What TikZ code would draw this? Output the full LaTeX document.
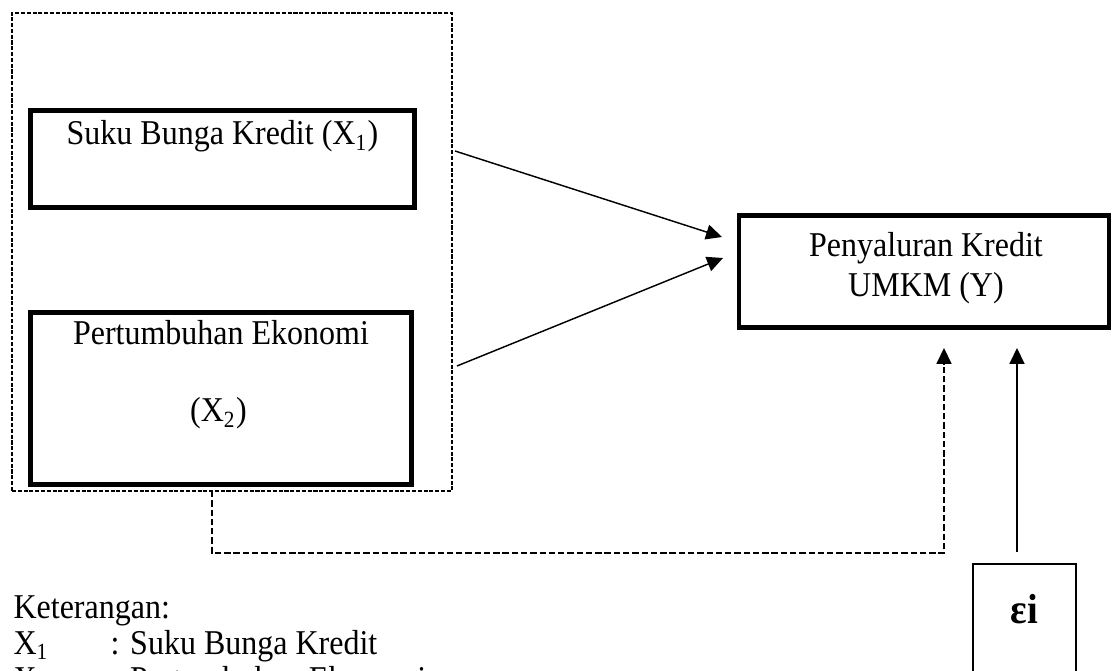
\documentclass[tikz,border=0pt]{standalone}
\usepackage{fontspec}
\setmainfont[FakeStretch=0.92]{Liberation Serif}
\usetikzlibrary{positioning,calc,fit,arrows.meta}
\tikzset{every node/.style={font=\fontsize{12}{13.8}\selectfont}}
\tikzset{txt/.style={inner sep=0pt}}
\tikzset{var box/.style={draw,line width=1.7pt,inner sep=0pt,outer sep=0pt}}
\tikzset{group box/.style={draw,line width=0.5pt,dash pattern=on 1.4pt off 0.6pt,inner sep=0pt,outer sep=0pt}}
\tikzset{link/.style={line width=0.5pt,-{Triangle[length=5.5pt,width=5.2pt]}}}
\tikzset{dashed link/.style={link,dash pattern=on 2.2pt off 1pt}}

\begin{document}
\begin{tikzpicture}[x=0.345pt,y=-0.345pt]
\useasboundingbox (0,0) rectangle (1112,671);

%Variables X1 and X2
\node[group box,fit={(12,13) (452,491)}] (grp) {};
\node[var box,fit={(30.5,110.5) (414.5,207.5)}] (x1) {};
\node[txt,anchor=base] (x1text) at ($(x1.north)+(0,34.5)$) {Suku Bunga Kredit (X\textsubscript{1})};
\node[var box,fit={(30.5,312.5) (411.5,484.5)}] (x2) {};
\node[txt,anchor=base] (x2text) at ($(x2.north)+(0,32.5)$) {Pertumbuhan Ekonomi};
\node[txt,anchor=base] (x2sub) at ($(x2text.base)+(-2.5,77)$) {(X\textsubscript{2})};

%Variable Y and error term
\node[var box,line width=1.6pt,fit={(739,215.5) (1109,327.5)}] (ybox) {};
\node[txt,anchor=base] (ytext) at ($(ybox.north)+(2,41.5)$) {Penyaluran Kredit};
\node[txt,anchor=base] (ysub) at ($(ytext.base)+(0,40)$) {UMKM (Y)};
\node[draw,line width=0.9pt,inner sep=0pt,outer sep=0pt,fit={(973,564) (1076,720)}] (err) {};
\node[txt,anchor=base,font=\fontsize{14.5}{16}\selectfont\bfseries] (errtext) at ($(err.north)+(0,59)$) {εi};

%Connectors
\draw[link] ($(grp.east |- x1)+(3,-8)$) -- ($(ybox.west)+(-17,-34.5)$);
\draw[link] ($(grp.east |- x2)+(5,-32.5)$) -- ($(ybox.west)+(-16,-13.5)$);
\draw[dashed link] ($(grp.south)+(-20,0)$) |- ($(ybox.south)+(20,225.5)$) -- ($(ybox.south)+(20,20.5)$);
\draw[link] ($(err.north)+(-7.5,-12)$) -- ($(ybox.south)+(93,20.5)$);

%Legend
\node[txt,anchor=base west] (ket) at (13,618) {Keterangan:};
\node[txt,anchor=base west] (leg1) at (13,654) {\makebox[33.5pt][l]{X\textsubscript{1}}: Suku Bunga Kredit};
\node[txt,anchor=base west] (leg2) at (13,690) {\makebox[33.5pt][l]{X\textsubscript{2}}: Pertumbuhan Ekonomi};

\end{tikzpicture}
\end{document}
